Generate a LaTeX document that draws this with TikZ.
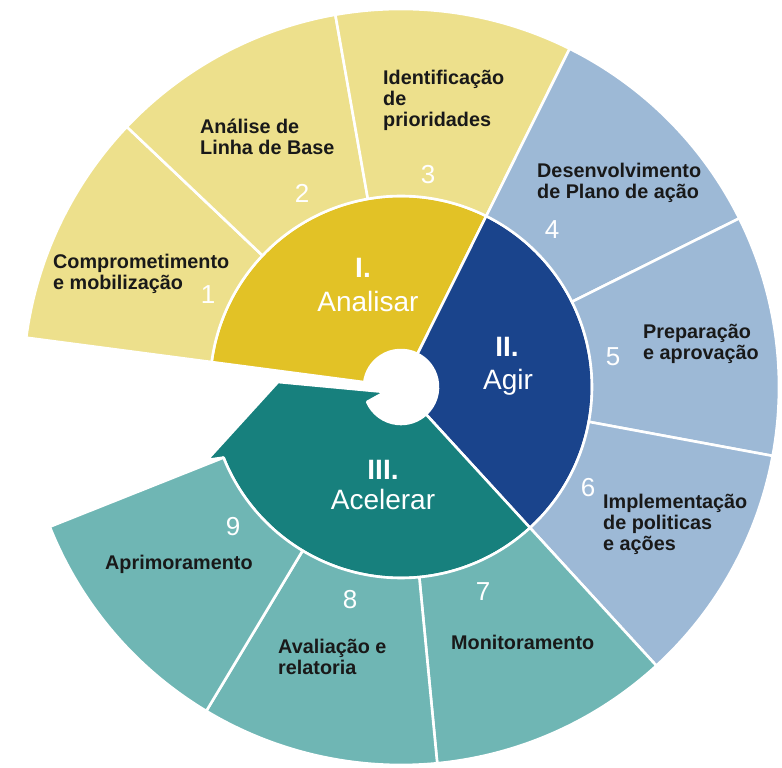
\documentclass[tikz,border=0pt]{standalone}
\usepackage{fontspec}
\setmainfont{Liberation Sans}
\definecolor{yellowL}{RGB}{237,224,140}
\definecolor{yellowD}{RGB}{226,194,38}
\definecolor{blueL}{RGB}{157,185,214}
\definecolor{blueD}{RGB}{26,68,140}
\definecolor{tealL}{RGB}{111,182,180}
\definecolor{tealD}{RGB}{23,128,125}
\definecolor{textdark}{RGB}{25,25,25}
\newcommand\ringsector[5]{%
  \path[sector,fill=#1] (#2:#4) arc[start angle=#2,end angle=#3,radius=#4]
    -- (#3:#5) arc[start angle=#3,end angle=#2,radius=#5] -- cycle;}
\begin{document}
\begin{tikzpicture}[x=1pt,y=1pt,
  sector/.style={draw=white,line width=2.6pt,line join=round},
  lbl/.style={font=\bfseries\fontsize{19.8}{21}\selectfont,text=textdark,align=left,anchor=west,inner sep=0pt},
  num/.style={font=\fontsize{26}{26}\selectfont,text=white,inner sep=0pt},
  phnum/.style={font=\bfseries\fontsize{28}{28}\selectfont,text=white,anchor=base,inner sep=0pt},
  phname/.style={font=\fontsize{28}{28}\selectfont,text=white,anchor=base,inner sep=0pt}]
\useasboundingbox (-401,-381) rectangle (381,387);
% inner phases
\ringsector{yellowD}{63.5}{172.5}{37}{191}
\ringsector{blueD}{-47.5}{63.5}{37}{191}
\path[sector,fill=tealD] (-47.5:191) arc[start angle=-47.5,end angle=-158.3,radius=191]
  -- (-194,-73) -- (-123,5) -- (-16,-5) -- (-156.2:37)
  arc[start angle=-156.2,end angle=-47.5,radius=37] -- cycle;
% outer segments
\ringsector{yellowL}{136.5}{172.5}{191}{378}
\ringsector{yellowL}{100}{136.5}{191}{378}
\ringsector{yellowL}{63.5}{100}{191}{378}
\ringsector{blueL}{26.5}{63.5}{191}{378}
\ringsector{blueL}{-10.5}{26.5}{191}{378}
\ringsector{blueL}{-47.5}{-10.5}{191}{378}
\ringsector{tealL}{-84.5}{-47.5}{191}{378}
\ringsector{tealL}{-121}{-84.5}{191}{378}
\ringsector{tealL}{-158.3}{-121}{191}{378}
% labels
\node[lbl] (l1) at (-348,113) {Comprometimento\\e mobilização};
\node[lbl] (l2) at (-201,250.5) {Análise de\\Linha de Base};
\node[lbl] (l3) at (-18,286.5) {Identificação\\de\\prioridades};
\node[lbl] (l4) at (136,204) {Desenvolvimento\\de Plano de ação};
\node[lbl] (l5) at (242,43) {Preparação\\e aprovação};
\node[lbl] (l6) at (202,-137) {Implementação\\de politicas\\e ações};
\node[lbl] (l7) at (50,-255) {Monitoramento};
\node[lbl] (l8) at (-123,-270) {Avaliação e\\relatoria};
\node[lbl] (l9) at (-296,-177) {Aprimoramento};
% numbers
\node[num] (n1) at (-193,92) {1};
\node[num] (n2) at (-99,194) {2};
\node[num] (n3) at (27,212) {3};
\node[num] (n4) at (151,157) {4};
\node[num] (n5) at (212,30) {5};
\node[num] (n6) at (187,-101) {6};
\node[num] (n7) at (82,-205) {7};
\node[num] (n8) at (-51,-213) {8};
\node[num] (n9) at (-168,-140) {9};
% phases
\node[phnum] (p1) at (-38,109) {I.};
\node[phname] (p1n) at (-33,75) {Analisar};
\node[phnum] (p2) at (106,30) {II.};
\node[phname] (p2n) at (107,-3) {Agir};
\node[phnum] (p3) at (-18,-93) {III.};
\node[phname] (p3n) at (-18,-123) {Acelerar};
\end{tikzpicture}
\end{document}
